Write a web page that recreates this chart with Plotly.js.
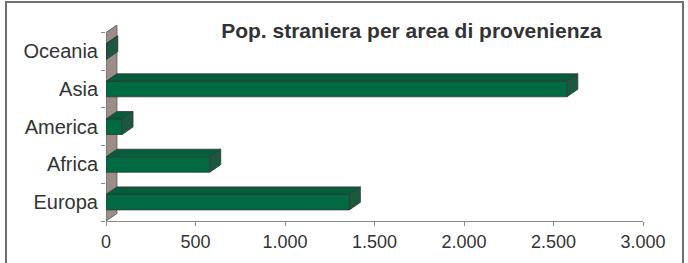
<!DOCTYPE html>
<html>
<head>
<meta charset="utf-8">
<script src="https://cdn.plot.ly/plotly-3.0.1.min.js"></script>
<style>
  html, body { margin: 0; padding: 0; background: #fff; overflow: hidden; }
  #chart { position: absolute; left: 0; top: 0; width: 688px; height: 263px; }
  #frame { position: absolute; left: 5px; top: 1px; width: 675px; height: 290px;
           border: 2px solid #707070; pointer-events: none; }
</style>
</head>
<body>
<div id="chart"></div>
<div id="frame"></div>
<script>
// ---- data ----
const categories = ['Europa', 'Africa', 'America', 'Asia', 'Oceania'];
const values = [1360, 580, 90, 2575, 5];
const xTicks = [0, 500, 1000, 1500, 2000, 2500, 3000];
const titleText = 'Pop. straniera per area di provenienza';

// ---- 3D styling ----
const idx = categories.map((c, i) => i);
const barW = 0.41;      // bar thickness in category units
const depthX = 61;      // depth offset along x (data units)
const depthY = 0.2;     // depth offset along y (category units)
const yMin = -0.5, yMax = categories.length - 0.5 + depthY;

const front = '#006b42', topC = '#065c3b', sideC = '#1c5840', edge = '#2e3a34';

const topX = [], topY = [], sideX = [], sideY = [];
values.forEach((v, i) => {
  const y0 = i - barW / 2, y1 = i + barW / 2;
  topX.push(0, v, v + depthX, depthX, 0, null);
  topY.push(y1, y1, y1 + depthY, y1 + depthY, y1, null);
  sideX.push(v, v + depthX, v + depthX, v, v, null);
  sideY.push(y0, y0 + depthY, y1 + depthY, y1, y0, null);
});

const traces = [
  { type: 'bar', orientation: 'h', x: values, y: idx, width: barW,
    marker: { color: front, line: { color: edge, width: 0.8 } }, hoverinfo: 'skip' },
  { type: 'scatter', mode: 'lines', x: topX, y: topY, fill: 'toself', fillcolor: topC,
    line: { color: edge, width: 0.8 }, hoverinfo: 'skip' },
  { type: 'scatter', mode: 'lines', x: sideX, y: sideY, fill: 'toself', fillcolor: sideC,
    line: { color: edge, width: 0.8 }, hoverinfo: 'skip' }
];

const wallPath = `M 0,${yMin} L ${depthX},${yMin + depthY} L ${depthX},${yMax} L 0,${yMax - depthY} Z`;
const boundaries = [];
for (let i = 0; i <= categories.length; i++) boundaries.push(i - 0.5);

const layout = {
  width: 688, height: 263,
  margin: { l: 106, r: 45, t: 25, b: 42, pad: 0 },
  paper_bgcolor: '#fff', plot_bgcolor: 'rgba(0,0,0,0)',
  showlegend: false, hovermode: false,
  separators: ',.',
  font: { family: 'Liberation Sans, Arial, sans-serif', color: '#333' },
  title: { text: '<b>' + titleText + '</b>', font: { size: 21, color: '#333', family: 'Liberation Sans, Arial, sans-serif' },
           xref: 'container', yref: 'container', x: 0.598, xanchor: 'center', y: 0.885, yanchor: 'middle' },
  xaxis: { range: [0, 3000], tickvals: xTicks, tickformat: ',d', separatethousands: true,
           ticks: 'outside', ticklen: 4, tickcolor: '#888', showline: true, linecolor: '#888', linewidth: 1,
           showgrid: false, zeroline: false, tickfont: { size: 18, color: '#333' }, fixedrange: true },
  yaxis: { range: [yMin, yMax], tickvals: idx, ticktext: categories, ticks: '', showline: false,
           showgrid: false, zeroline: false, tickfont: { size: 20, color: '#333' },
           ticklabelstandoff: 7, fixedrange: true },
  yaxis2: { range: [yMin, yMax], overlaying: 'y', side: 'left', anchor: 'x', tickvals: boundaries,
            ticks: 'outside', ticklen: 4, tickcolor: '#888', showticklabels: false, showline: false,
            showgrid: false, zeroline: false, fixedrange: true },
  shapes: [
    { type: 'path', xref: 'x', yref: 'y', path: wallPath, fillcolor: '#9d8d87',
      line: { color: '#666', width: 1 }, layer: 'below' }
  ]
};

// dummy trace to activate yaxis2 ticks
traces.push({ type: 'scatter', mode: 'none', x: [0], y: [0], yaxis: 'y2', hoverinfo: 'skip' });

Plotly.newPlot('chart', traces, layout, { displayModeBar: false, staticPlot: true });
</script>
</body>
</html>
